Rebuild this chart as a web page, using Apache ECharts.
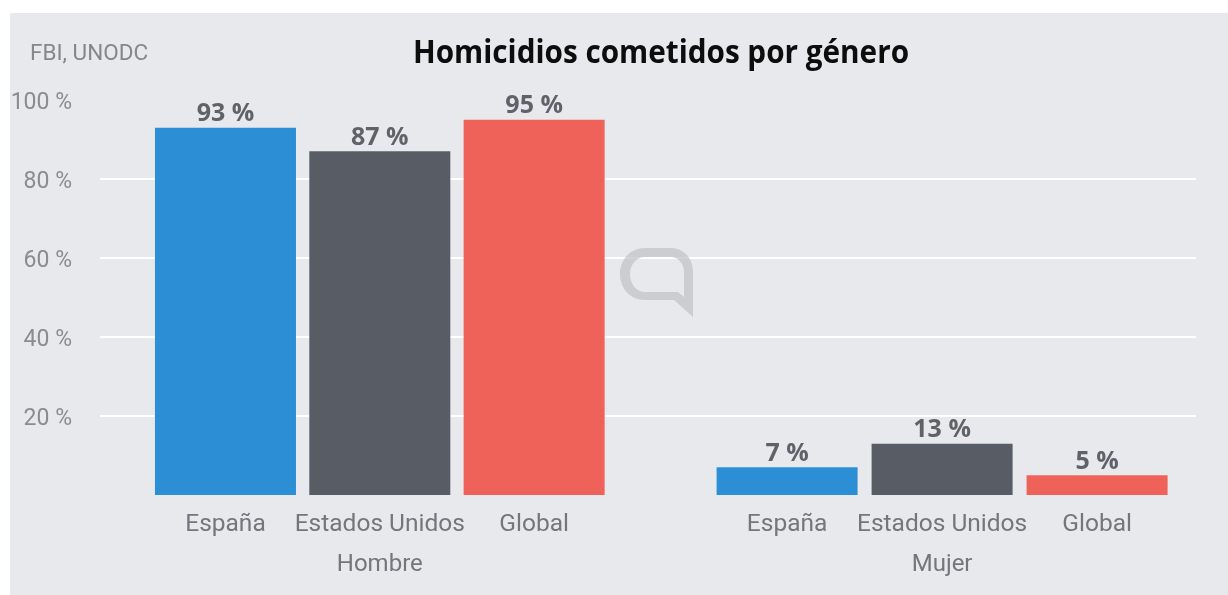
<!DOCTYPE html>
<html>
<head>
<meta charset="utf-8">
<style>
  html, body { margin: 0; padding: 0; width: 1228px; height: 595px; background: #fff; overflow: hidden; }
  #panel { position: absolute; left: 10px; top: 13px; width: 1218px; height: 582px; background: #e8e9ed; }
  #chart { position: absolute; left: 0; top: 0; width: 1228px; height: 595px; }
</style>
<script src="https://cdn.jsdelivr.net/npm/echarts@6/dist/echarts.min.js"></script>
</head>
<body>
<div id="panel"></div>
<div id="chart"></div>
<script>
// Share of homicides by gender of the perpetrator
const categories = ['España', 'Estados Unidos', 'Global'];
const hombre = [93, 87, 95];
const mujer = [7, 13, 5];
const colors = ['#2c8fd6', '#585c64', '#ef6259'];
const yTicks = { min: 0, max: 100, step: 20 };

const TOP = 100, HEIGHT = 395;

// Speech-bubble logo shown faintly in the middle of the plot
echarts.graphic.registerShape('bubbleLogo', echarts.graphic.extendPath(
  'M645 248 L670 248 C684 248 693 258 693 272 L693 317 L674 300 L645 300 C630 300 620 288 620 274 C620 260 630 248 645 248 Z ' +
  'M645 257 C636 257 630 265 630 274 C630 284 636 292 645 292 L678 292 L684 297 L684 272 C684 263 678 257 670 257 Z',
  {}
));

const chart = echarts.init(document.getElementById('chart'), null, { renderer: 'canvas' });

const catAxis = (gridIndex, name) => ({
  type: 'category',
  gridIndex,
  data: categories,
  name,
  nameLocation: 'middle',
  nameGap: 58,
  nameTextStyle: { fontFamily: 'Roboto', fontSize: 24, color: '#74767d' },
  axisLine: { show: false },
  axisTick: { show: false },
  axisLabel: { fontFamily: 'Roboto', fontSize: 24.5, color: '#74767d', margin: 17, interval: 0 }
});
const hiddenY = gridIndex => ({
  type: 'value', gridIndex, min: yTicks.min, max: yTicks.max, interval: yTicks.step, show: false
});
const barSeries = (idx, values) => ({
  type: 'bar',
  xAxisIndex: idx,
  yAxisIndex: idx,
  barWidth: 141,
  data: values.map((v, i) => ({ value: v, itemStyle: { color: colors[i] } })),
  label: {
    show: true,
    position: 'top',
    distance: 1,
    formatter: '{c} %',
    fontFamily: 'Open Sans',
    fontWeight: 'bold',
    fontSize: 25,
    color: '#5f6269'
  }
});

chart.setOption({
  animation: false,
  backgroundColor: 'transparent',
  grid: [
    { left: 100, top: TOP, width: 1096, height: HEIGHT },
    { left: 148.3, top: TOP, width: 463, height: HEIGHT },
    { left: 709.6, top: TOP, width: 465, height: HEIGHT }
  ],
  xAxis: [
    { type: 'category', gridIndex: 0, data: [''], show: false },
    catAxis(1, 'Hombre'),
    catAxis(2, 'Mujer')
  ],
  yAxis: [
    {
      type: 'value',
      gridIndex: 0,
      min: yTicks.min,
      max: yTicks.max,
      interval: yTicks.step,
      axisLine: { show: false },
      axisTick: { show: false },
      axisLabel: {
        formatter: '{t|{value} %}',
        showMinLabel: false,
        margin: 28,
        rich: {
          t: {
            padding: [6, 0, 0, 0],
            fontFamily: 'Roboto',
            fontSize: 23,
            color: '#8a8c92'
          }
        }
      },
      splitLine: {
        show: true,
        showMinLine: false,
        showMaxLine: false,
        lineStyle: { color: '#ffffff', width: 2 }
      }
    },
    hiddenY(1),
    hiddenY(2)
  ],
  series: [barSeries(1, hombre), barSeries(2, mujer)],
  graphic: [
    {
      type: 'text',
      x: 661,
      y: 53.5,
      scaleX: 0.9,
      style: {
        text: 'Homicidios cometidos por género',
        fontFamily: 'Open Sans',
        fontWeight: 'bold',
        fontSize: 33,
        fill: '#0d0d0d',
        align: 'center',
        verticalAlign: 'middle'
      }
    },
    {
      type: 'text',
      x: 30,
      y: 54,
      style: {
        text: 'FBI, UNODC',
        fontFamily: 'Roboto',
        fontSize: 22.5,
        fill: '#85878d',
        verticalAlign: 'middle'
      }
    },
    {
      type: 'bubbleLogo',
      z: 10,
      silent: true,
      style: { fill: '#bfc1c5', opacity: 0.7 }
    }
  ]
});
</script>
</body>
</html>
